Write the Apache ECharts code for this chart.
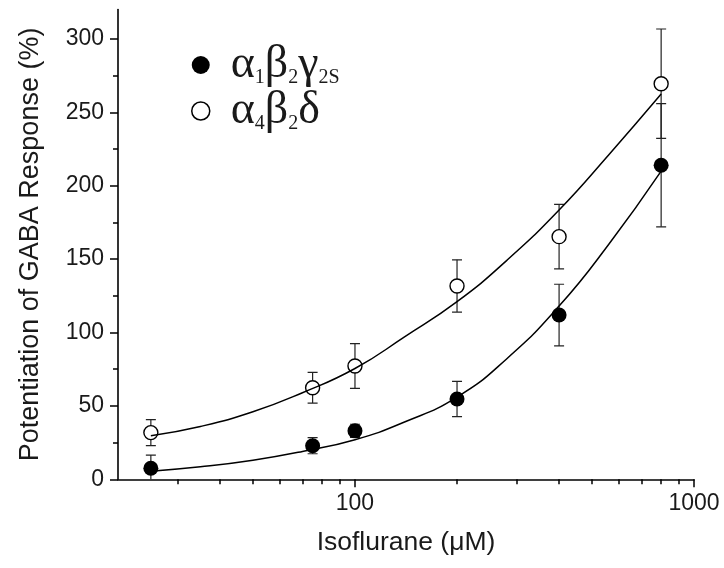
<!DOCTYPE html>
<html>
<head>
<meta charset="utf-8">
<script src="https://cdn.jsdelivr.net/npm/echarts@6/dist/echarts.min.js"></script>
<style>
html,body{margin:0;padding:0;background:#fff;}
#chart{width:724px;height:568px;}
</style>
</head>
<body>
<div id="chart"></div>
<script>
// ---- data ----
const concentrations = [25, 75, 100, 200, 400, 800];
const a1b2g2Mean = [7.5, 22.9, 33.0, 54.7, 111.9, 214.0];
const a1b2g2Err  = [9.0, 5.5, 4.5, 12.0, 21.0, 42.0];
const a4b2dMean  = [31.8, 62.4, 77.2, 131.7, 165.3, 269.5];
const a4b2dErr   = [8.8, 10.5, 15.2, 17.8, 22.0, 37.3];

// fitted curves
const fitX  = [25, 35, 50, 70, 100, 140, 200, 280, 400, 560, 800];
const fit1Y = [5.5, 8.5, 13, 19, 27, 39, 56, 82, 118, 160, 210];
const fit2Y = [29.7, 36, 46, 59, 75.5, 97, 121, 149, 183.5, 221, 262.5];

const xTickLabels = [100, 1000];
const xMinorTicks = [30, 40, 50, 60, 70, 80, 90, 200, 300, 400, 500, 600, 700, 800, 900];
const yTickLabels = [0, 50, 100, 150, 200, 250, 300];
const yMinorTicks = [25, 75, 125, 175, 225, 275];

const name1 = 'α1β2γ2S';
const name2 = 'α4β2δ';
const richNames = {};
richNames[name1] = '{a|α}{s|1}{a|β}{s|2}{a|γ}{s|2S}';
richNames[name2] = '{a|α}{s|4}{a|β}{s|2}{a|δ}';

const zip = (xs, ys) => xs.map((x, i) => [x, ys[i]]);
const zip3 = (xs, ys, es) => xs.map((x, i) => [x, ys[i], es[i]]);

const sans = 'Liberation Sans, Arial, sans-serif';
const serif = 'Liberation Serif, Times New Roman, serif';
const ink = '#1a1a1a';

function errRender(params, api) {
  const x = api.value(0), y = api.value(1), e = api.value(2);
  const top = api.coord([x, y + e]);
  const bot = api.coord([x, y - e]);
  const hw = 5;
  const style = { stroke: '#222', lineWidth: 1.2, fill: null };
  return {
    type: 'group',
    children: [
      { type: 'line', shape: { x1: top[0], y1: top[1], x2: bot[0], y2: bot[1] }, style },
      { type: 'line', shape: { x1: top[0] - hw, y1: top[1], x2: top[0] + hw, y2: top[1] }, style },
      { type: 'line', shape: { x1: bot[0] - hw, y1: bot[1], x2: bot[0] + hw, y2: bot[1] }, style }
    ]
  };
}

const chart = echarts.init(document.getElementById('chart'), null, { renderer: 'canvas' });
chart.setOption({
  animation: false,
  backgroundColor: '#fff',
  grid: { left: 118, right: 30, top: 9.6, bottom: 88.7, containLabel: false },
  legend: {
    orient: 'vertical',
    left: 191, top: 42,
    padding: 0,
    itemGap: 0,
    itemWidth: 50, itemHeight: 18,
    selectedMode: false,
    data: [
      { name: name1, icon: 'circle', itemStyle: { color: '#000', borderWidth: 0 } },
      { name: name2, icon: 'circle', itemStyle: { color: '#fff', borderColor: '#000', borderWidth: 1.5 } }
    ],
    formatter: n => richNames[n],
    textStyle: {
      color: ink,
      rich: {
        a: { fontFamily: serif, fontSize: 46, lineHeight: 45, color: ink },
        s: { fontFamily: serif, fontSize: 20, lineHeight: 23, verticalAlign: 'bottom', color: ink }
      }
    }
  },
  xAxis: [
    {
      type: 'log', logBase: 10, min: 20, max: 1000, position: 'bottom',
      name: 'Isoflurane (μM)', nameLocation: 'middle', nameGap: 50,
      nameTextStyle: { fontFamily: sans, fontSize: 26.5, color: ink },
      axisLine: { show: true, onZero: false, lineStyle: { color: '#000', width: 1.6 } },
      axisTick: { show: true, inside: false, length: 8, customValues: xTickLabels, lineStyle: { color: '#000', width: 1.5 } },
      axisLabel: { show: true, customValues: xTickLabels, margin: 13, fontFamily: sans, fontSize: 23, color: ink, formatter: v => String(Math.round(v)) },
      splitLine: { show: false }, minorTick: { show: false }, minorSplitLine: { show: false }
    },
    {
      type: 'log', logBase: 10, min: 20, max: 1000, position: 'bottom', offset: 0,
      axisLine: { show: false },
      axisTick: { show: true, inside: false, length: 5, customValues: xMinorTicks, lineStyle: { color: '#000', width: 1.5 } },
      axisLabel: { show: false },
      splitLine: { show: false }
    }
  ],
  yAxis: [
    {
      type: 'value', min: 0, max: 320, position: 'left',
      name: 'Potentiation of GABA Response (%)', nameLocation: 'middle', nameGap: 74, nameRotate: 90,
      nameTextStyle: { fontFamily: sans, fontSize: 27, color: ink },
      axisLine: { show: true, onZero: false, lineStyle: { color: '#000', width: 1.6 } },
      axisTick: { show: true, inside: false, length: 8, customValues: yTickLabels, lineStyle: { color: '#000', width: 1.5 } },
      axisLabel: { show: true, customValues: yTickLabels, margin: 14, fontFamily: sans, fontSize: 23, color: ink },
      splitLine: { show: false }
    },
    {
      type: 'value', min: 0, max: 320, position: 'left', offset: 0,
      axisLine: { show: false },
      axisTick: { show: true, inside: false, length: 5, customValues: yMinorTicks, lineStyle: { color: '#000', width: 1.5 } },
      axisLabel: { show: false },
      splitLine: { show: false }
    }
  ],
  series: [
    {
      name: 'err1', type: 'custom', xAxisIndex: 0, yAxisIndex: 0, z: 1, clip: true,
      renderItem: errRender, data: zip3(concentrations, a1b2g2Mean, a1b2g2Err), silent: true
    },
    {
      name: 'err2', type: 'custom', xAxisIndex: 0, yAxisIndex: 0, z: 1, clip: true,
      renderItem: errRender, data: zip3(concentrations, a4b2dMean, a4b2dErr), silent: true
    },
    {
      name: name1, type: 'scatter', z: 3, symbol: 'circle', symbolSize: 15,
      itemStyle: { color: '#000', opacity: 1 },
      data: zip(concentrations, a1b2g2Mean)
    },
    {
      name: name2, type: 'scatter', z: 3, symbol: 'circle', symbolSize: 14,
      itemStyle: { color: '#fff', borderColor: '#000', borderWidth: 1.4, opacity: 1 },
      data: zip(concentrations, a4b2dMean)
    },
    {
      name: 'fit1', type: 'line', z: 4, smooth: 0.5, showSymbol: false, symbol: 'none',
      lineStyle: { color: '#000', width: 1.5 }, data: zip(fitX, fit1Y), silent: true
    },
    {
      name: 'fit2', type: 'line', z: 4, smooth: 0.5, showSymbol: false, symbol: 'none',
      lineStyle: { color: '#000', width: 1.5 }, data: zip(fitX, fit2Y), silent: true
    }
  ]
});
</script>
</body>
</html>
